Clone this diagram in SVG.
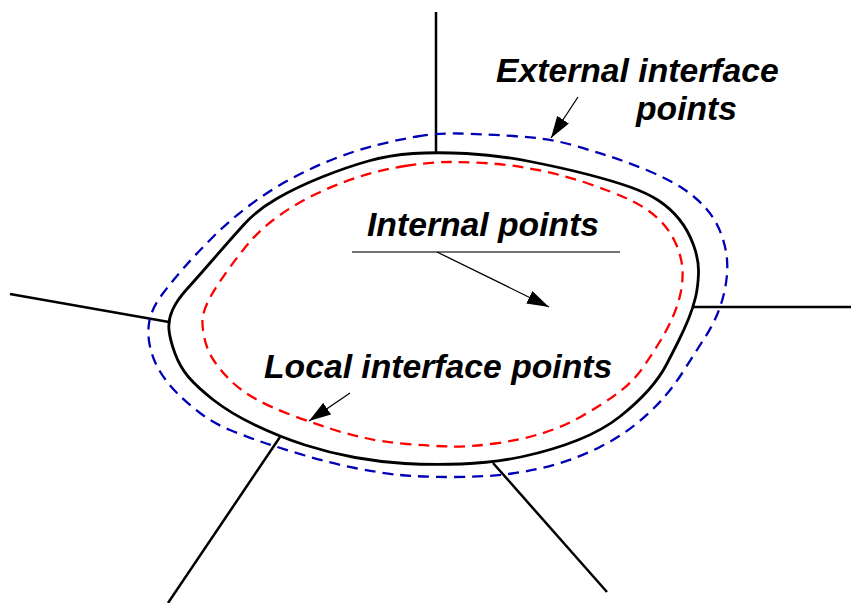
<svg xmlns="http://www.w3.org/2000/svg" width="851" height="603" viewBox="0 0 851 603">
<style>
.spoke{stroke:#000;stroke-width:2.5;fill:none}
.bound{stroke:#000;stroke-width:2.8;fill:none;stroke-linejoin:round}
.outer{stroke:#0000b4;stroke-width:2.3;fill:none;stroke-dasharray:11 7}
.inner{stroke:#ff0000;stroke-width:2.3;fill:none;stroke-dasharray:11 7}
.lbl{font-family:"Liberation Sans",Arial,sans-serif;font-weight:bold;font-style:italic;font-size:33.7px;fill:#000}
.ptr{stroke:#000;stroke-width:1.3;fill:none;marker-end:url(#ah)}
</style>
<defs>
<marker id="ah" markerUnits="userSpaceOnUse" markerWidth="24" markerHeight="14" refX="22" refY="7" orient="auto">
<path d="M0,0 L22,7 L0,14 Z" fill="#000"/>
</marker>
</defs>
<rect width="851" height="603" fill="#fff"/>
<g id="spokes">
<line class="spoke" x1="436" y1="12" x2="436" y2="152"/>
<line class="spoke" x1="10" y1="294" x2="169" y2="322"/>
<line class="spoke" x1="693" y1="307" x2="851" y2="307"/>
<line class="spoke" x1="280" y1="437" x2="168" y2="603"/>
<line class="spoke" x1="493" y1="463" x2="607" y2="592"/>
</g>
<g id="outer-boundary">
<path class="outer" d="M417,136.5 Q437,133 458.5,133.5 Q480,134 513.5,136 Q547,138 568.5,144 Q590,150 610,156.5 Q630,163 650,171.5 Q670,180 683.5,189 Q697,198 706.5,209 Q716,220 721,233.5 Q726,247 727,259.5 Q728,272 725.5,286 Q723,300 718,312.5 Q713,325 704,339 Q695,353 684.5,369.5 Q674,386 663,398.5 Q652,411 636,424 Q620,437 600,447 Q580,457 558.5,463.5 Q537,470 512,473.5 Q487,477 453.5,477 Q420,477 400,475 Q380,473 355,468 Q330,463 305,455.5 Q280,448 263.5,442.5 Q247,437 230,430 Q213,423 200,413 Q187,403 177,393 Q167,383 160,371.5 Q153,360 150,346.5 Q147,333 149.5,320.5 Q152,308 162.5,294 Q173,280 185,266.5 Q197,253 213.5,236.5 Q230,220 250,205 Q270,190 291.5,178.5 Q313,167 335,158.5 Q357,150 377,145 Q397,140 417,136.5 Z"/>
</g>
<g id="boundary">
<path class="bound" d="M413,153.5 Q436,152 466.5,153.5 Q497,155 530,161.5 Q563,168 588,174.5 Q613,181 630,187 Q647,193 658.5,200.5 Q670,208 679,219 Q688,230 693.5,245 Q699,260 698.5,273.5 Q698,287 695.5,297.5 Q693,308 688.5,319 Q684,330 678.5,341 Q673,352 666.5,364.5 Q660,377 648.5,390 Q637,403 620,416.5 Q603,430 578,440 Q553,450 523,456.5 Q493,463 461.5,464 Q430,465 405,463.5 Q380,462 355,457.5 Q330,453 305,445 Q280,437 255,425 Q230,413 213.5,400 Q197,387 188.5,377 Q180,367 175,353.5 Q170,340 169,330 Q168,320 172.5,310 Q177,300 187,289 Q197,278 213.5,259 Q230,240 243.5,225 Q257,210 277,198.5 Q297,187 322,177 Q347,167 368.5,161 Q390,155 413,153.5 Z"/>
</g>
<g id="inner-boundary">
<path class="inner" d="M405,166 Q430,162 450,162 Q470,162 491.5,163.5 Q513,165 538,170 Q563,175 588,183.5 Q613,192 630,200 Q647,208 658.5,219 Q670,230 676,244 Q682,258 682.5,270 Q683,282 680.5,293.5 Q678,305 673,316.5 Q668,328 660.5,340.5 Q653,353 643,367.5 Q633,382 618,393 Q603,404 583,415.5 Q563,427 541.5,433.5 Q520,440 495,443.5 Q470,447 450,446.5 Q430,446 406.5,444 Q383,442 365,438 Q347,434 328.5,428 Q310,422 290,414.5 Q270,407 255,398.5 Q240,390 230,380 Q220,370 213.5,360 Q207,350 204.5,338.5 Q202,327 202.5,319.5 Q203,312 208,301.5 Q213,291 226.5,272 Q240,253 251.5,240 Q263,227 280,215 Q297,203 317,193.5 Q337,184 358.5,177 Q380,170 405,166 Z"/>
</g>
<g id="label-external">
<text class="lbl" x="496" y="82">External interface</text>
<text class="lbl" x="636" y="120">points</text>
</g>
<g id="label-internal">
<text class="lbl" x="367" y="236">Internal points</text>
<line x1="352" y1="252" x2="620" y2="252" stroke="#444" stroke-width="1.6"/>
</g>
<g id="label-local">
<text class="lbl" x="264" y="378">Local interface points</text>
</g>
<g id="connectors">
<line class="ptr" x1="578" y1="97" x2="551" y2="138"/>
<line class="ptr" x1="437" y1="252" x2="549" y2="307"/>
<line class="ptr" x1="350" y1="393" x2="309" y2="421"/>
</g>
</svg>
